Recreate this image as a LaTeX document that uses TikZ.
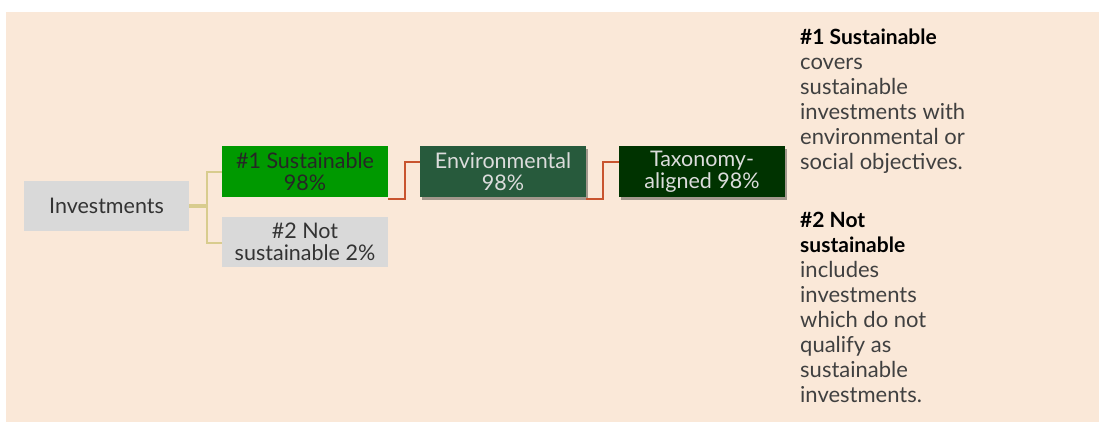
\documentclass[tikz,border=0pt]{standalone}
\usepackage{fontspec}
\setmainfont{Lato}
\usetikzlibrary{shadows}
\definecolor{paper}{HTML}{FAE8D8}
\definecolor{boxgray}{HTML}{D9D9D9}
\definecolor{susgreen}{HTML}{009900}
\definecolor{envgreen}{HTML}{275A3C}
\definecolor{taxgreen}{HTML}{003300}
\definecolor{linkred}{HTML}{C8542F}
\definecolor{linkolive}{HTML}{D8CC8E}
\definecolor{darktext}{HTML}{333333}
\definecolor{bodytext}{HTML}{404040}
\definecolor{lighttext}{HTML}{DCDCDC}
\tikzset{
  cat/.style={minimum width=166pt, minimum height=51pt, inner sep=0pt,
    align=center, font=\fontsize{21.5}{22}\selectfont},
  grayc/.style={cat, fill=boxgray, text=darktext},
  shadowed/.style={drop shadow={shadow xshift=2pt, shadow yshift=-3pt,
    opacity=0.35, fill=black}},
  redlink/.style={draw=linkred, line width=2pt},
  olivelink/.style={draw=linkolive, line width=1.8pt},
  legend/.style={anchor=base west, inner sep=0pt, font=\fontsize{22}{25}\selectfont},
  head/.style={legend, text=black, font=\fontsize{21}{25}\selectfont\bfseries},
  body/.style={legend, text=bodytext},
}
\begin{document}
\begin{tikzpicture}[x=1pt, y=-1pt]
\useasboundingbox (0,0) rectangle (1099,423);
\fill[white] (0,0) rectangle (1099,423);
\fill[paper] (6,12) rectangle (1099,422);

% category boxes
\node[grayc, minimum width=165pt, minimum height=50pt] (inv) at (106.5,206) {Investments};
\node[cat, fill=susgreen, text=black!85] (sus) at (305,171.5) {\#1 Sustainable\\98\%};
\node[grayc, minimum height=50pt] (nsus) at (305,242) {\#2 Not\\sustainable 2\%};
\node[cat, fill=envgreen, text=lighttext, shadowed] (env) at (503,171.5) {Environmental\\98\%};
\node[cat, fill=taxgreen, text=lighttext, shadowed] (tax) at (702,171.5) {Taxonomy-\\aligned 98\%};

% tree from Investments
\coordinate (fork) at (207,206);
\draw[olivelink, line width=3.5pt] (inv.east) -- (fork);
\draw[olivelink] (sus.west |- 0,172) -| (fork) |- (nsus.west |- 0,243);

% elbow links between the sustainable branch boxes
\draw[redlink] (sus.east |- 0,199) -| (404.5,161.5) -- (env.west |- 0,161.5);
\draw[redlink] (env.east |- 0,199) -| (603,161.5) -- (tax.west |- 0,161.5);

% legend text
\node[head] (h1) at (800,44) {\#1 Sustainable};
\node[body] (b1a) at (800,69) {covers};
\node[body] (b1b) at (800,94) {sustainable};
\node[body] (b1c) at (800,119) {investments with};
\node[body] (b1d) at (800,144) {environmental or};
\node[body] (b1e) at (800,169) {social objectives.};

\node[head] (h2a) at (800,227) {\#2 Not};
\node[head] (h2b) at (800,252) {sustainable};
\node[body] (b2a) at (800,277) {includes};
\node[body] (b2b) at (800,302) {investments};
\node[body] (b2c) at (800,327) {which do not};
\node[body] (b2d) at (800,352) {qualify as};
\node[body] (b2e) at (800,377) {sustainable};
\node[body] (b2f) at (800,402) {investments.};
\end{tikzpicture}
\end{document}
